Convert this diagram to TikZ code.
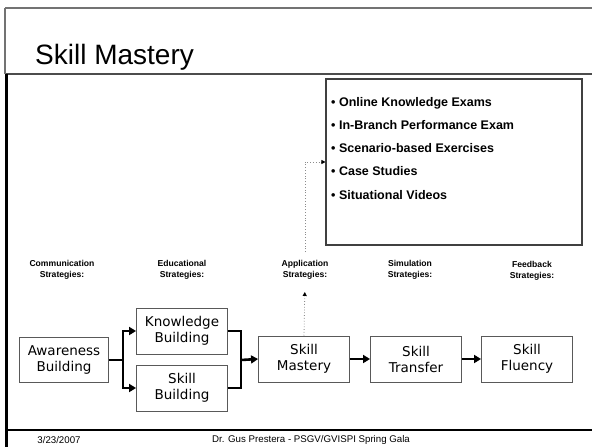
\documentclass[tikz,border=0pt]{standalone}
\usepackage{fontspec}
\setmainfont{Liberation Sans}
\newfontfamily\boxfont{DejaVu Sans}
\usetikzlibrary{arrows.meta}

\tikzset{
  stage/.style={draw=black!65, line width=0.9pt, minimum width=91pt, minimum height=46pt,
    inner sep=0pt, align=center, font=\boxfont\fontsize{13.5}{16}\selectfont},
  strat/.style={inner sep=1pt, align=center, font=\bfseries\fontsize{8.6}{11.5}\selectfont},
  flow/.style={line width=2.6pt, -{Triangle[length=7pt,width=8pt]}},
  merge/.style={line width=2.6pt},
  hint/.style={draw=black!45, dotted, line width=0.8pt, -{Triangle[length=4pt,width=4pt,black]}},
}

\begin{document}
\begin{tikzpicture}[x=1pt, y=-1pt]
  \useasboundingbox[fill=white] (0,0) rectangle (592,447);

  \draw[black!55, line width=1.4pt] (5,8) -- (592,8);
  \draw[black!70, line width=1.4pt] (5,74) -- (592,74);
  \draw[line width=1.4pt] (5,430) -- (592,430);
  \draw[black!55, line width=1.4pt] (5,8) -- (5,74);
  \draw[line width=3pt] (6,74) -- (6,447);

  \node[anchor=base west, inner sep=0pt, font=\fontsize{28}{32}\selectfont] (title) at (35,64) {Skill Mastery};

  \node[draw=black!75, line width=1.1pt, minimum width=256pt, minimum height=166pt, inner sep=0pt] (exams) at (454,162) {};
  \node[anchor=north west, inner sep=0pt, align=left, font=\bfseries\fontsize{12.5}{23.2}\selectfont] (examlist) at (331,97)
    {\textbullet\ Online Knowledge Exams\\
     \textbullet\ In-Branch Performance Exam\\
     \textbullet\ Scenario-based Exercises\\
     \textbullet\ Case Studies\\
     \textbullet\ Situational Videos};

  \node[strat] (comm) at (62,270) {Communication\\Strategies:};
  \node[strat] (edu) at (182,270) {Educational\\Strategies:};
  \node[strat] (app) at (305,270) {Application\\Strategies:};
  \node[strat] (sim) at (410,270) {Simulation\\Strategies:};
  \node[strat] (feed) at (532,271) {Feedback\\Strategies:};

  \node[stage, minimum width=89pt, minimum height=45pt] (aware) at (64,360) {Awareness\\Building};
  \node[stage] (know) at (182,331) {Knowledge\\Building};
  \node[stage] (skillb) at (182,388) {Skill\\Building};
  \node[stage] (master) at (304,359) {Skill\\Mastery};
  \node[stage] (transfer) at (416,359) {Skill\\Transfer};
  \node[stage] (fluency) at (527,359) {Skill\\Fluency};

  \coordinate (split) at (123,360);
  \coordinate (join) at (241,360);
  \draw[flow] (aware.east) -- (split) |- (know.west);
  \draw[flow] (split) |- (skillb.west);
  \draw[merge] (know.east) -| (join);
  \draw[merge] (skillb.east) -| (join);
  \draw[flow] (join) -- (master.west);
  \draw[flow] (master) -- (transfer);
  \draw[flow] (transfer) -- (fluency);

  \draw[hint, shorten >=11pt] (master.north) -- (app.south);
  \draw[hint, shorten <=7pt] (app.north) |- (exams.west);

  \node[font=\fontsize{9.7}{11}\selectfont] (date) at (59,440) {3/23/2007};
  \node[anchor=west, inner sep=0pt, font=\fontsize{9.7}{11}\selectfont] (credit) at (212,440) {Dr. Gus Prestera - PSGV/GVISPI Spring Gala};
\end{tikzpicture}
\end{document}
